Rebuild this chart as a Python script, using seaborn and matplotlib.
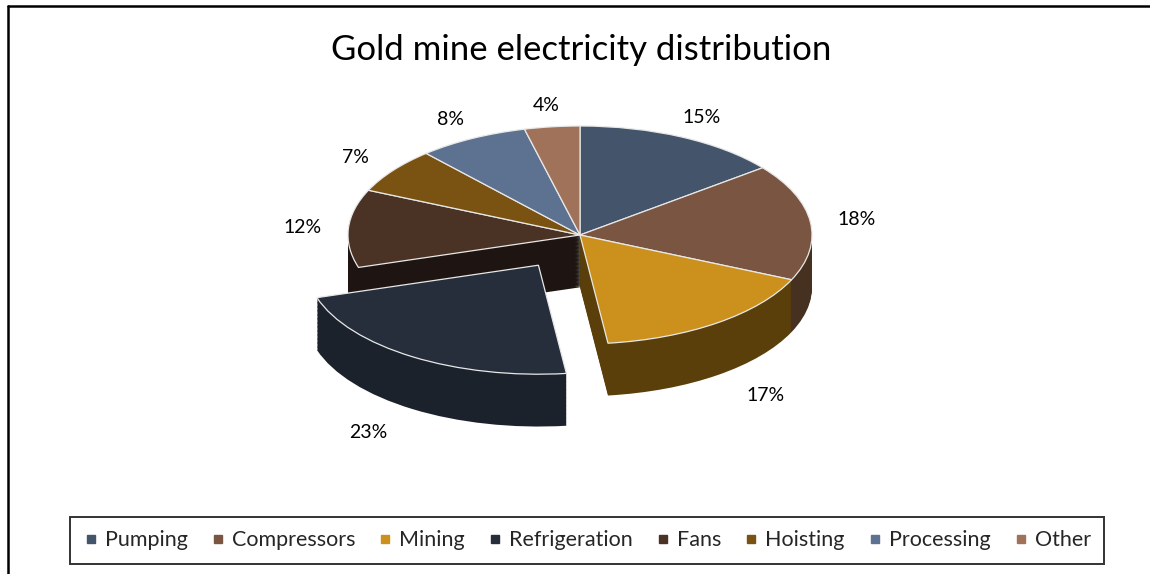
import numpy as np
import matplotlib
matplotlib.use("Agg")
import matplotlib.pyplot as plt
from matplotlib.lines import Line2D
import seaborn as sns

# ---- data ----
categories = ["Pumping", "Compressors", "Mining", "Refrigeration", "Fans",
              "Hoisting", "Processing", "Other"]
values = [15, 18, 17, 23, 12, 7, 8, 4]
pct_labels = ["15%", "18%", "17%", "23%", "12%", "7%", "8%", "4%"]
top_colors = ["#44546a", "#7a5541", "#cc901c", "#262e3c", "#4a3224",
              "#7a5312", "#5d7290", "#a0725a"]
side_colors = ["#2c3747", "#46301f", "#5a3f0b", "#1c222c", "#1e1512",
               "#4a320a", "#3a4860", "#6a4a3a"]
explode_vals = [0, 0, 0, 0.33, 0, 0, 0, 0]
title = "Gold mine electricity distribution"

sns.set_style("white")
plt.rcParams['font.family'] = ['Lato', 'DejaVu Sans']

W, H = 1150, 574
fig = plt.figure(figsize=(W / 100, H / 100), dpi=100)
ax = fig.add_axes([0, 0, 1, 1])

cx, cy = 580, 235      # pie centre (pixels from left / top)
rx, ry = 232, 109      # ellipse radii in pixels
depth = 0.48           # thickness in pie units (vertical)

n_layers = 40
for d in np.linspace(depth, 0.004, n_layers):
    ax.pie(values, explode=explode_vals, colors=side_colors, startangle=90,
           counterclock=False, center=(0, -d),
           wedgeprops=dict(linewidth=0))
wedges, _ = ax.pie(values, explode=explode_vals, colors=top_colors,
                   startangle=90, counterclock=False, center=(0, 0),
                   wedgeprops=dict(edgecolor="#e8e8e8", linewidth=0.9))

ax.set_aspect('auto')
ax.set_xlim(-cx / rx, (W - cx) / rx)
ax.set_ylim(-(H - cy) / ry, cy / ry)
ax.axis('off')

# percentage labels placed from wedge geometry
for w, lab in zip(wedges, pct_labels):
    mid = np.deg2rad((w.theta1 + w.theta2) / 2)
    c = w.center
    s = np.sin(mid)
    dist = 1.2 if s >= 0 else 1.35
    x = c[0] + dist * np.cos(mid)
    y = c[1] + dist * s
    if s < 0:
        y -= depth * (-s)
    ax.text(x, y, lab, ha='center', va='center', fontsize=14, color='#000000')

fig.text(581 / W, 1 - 50 / H, title, ha='center', va='center', fontsize=25,
         color='#000000')

handles = [Line2D([], [], marker='s', linestyle='none', markersize=5.5,
                  markerfacecolor=c, markeredgecolor=c) for c in top_colors]
leg = fig.legend(handles, categories, loc='center',
                 bbox_to_anchor=(587 / W, 1 - 540.5 / H), ncol=8,
                 frameon=True, fancybox=False, edgecolor='black',
                 fontsize=15.5, handlelength=0.7, handletextpad=0.3,
                 columnspacing=1.05, borderpad=0.62)
leg.get_frame().set_linewidth(1.4)

# outer frame (top and left edges visible)
fig.add_artist(Line2D([8 / W, 8 / W], [0, 1 - 6 / H], transform=fig.transFigure,
                      color='black', linewidth=1.8))
fig.add_artist(Line2D([8 / W, 1], [1 - 6 / H, 1 - 6 / H], transform=fig.transFigure,
                      color='black', linewidth=1.8))

fig.savefig("out.png", dpi=100, facecolor='white')
